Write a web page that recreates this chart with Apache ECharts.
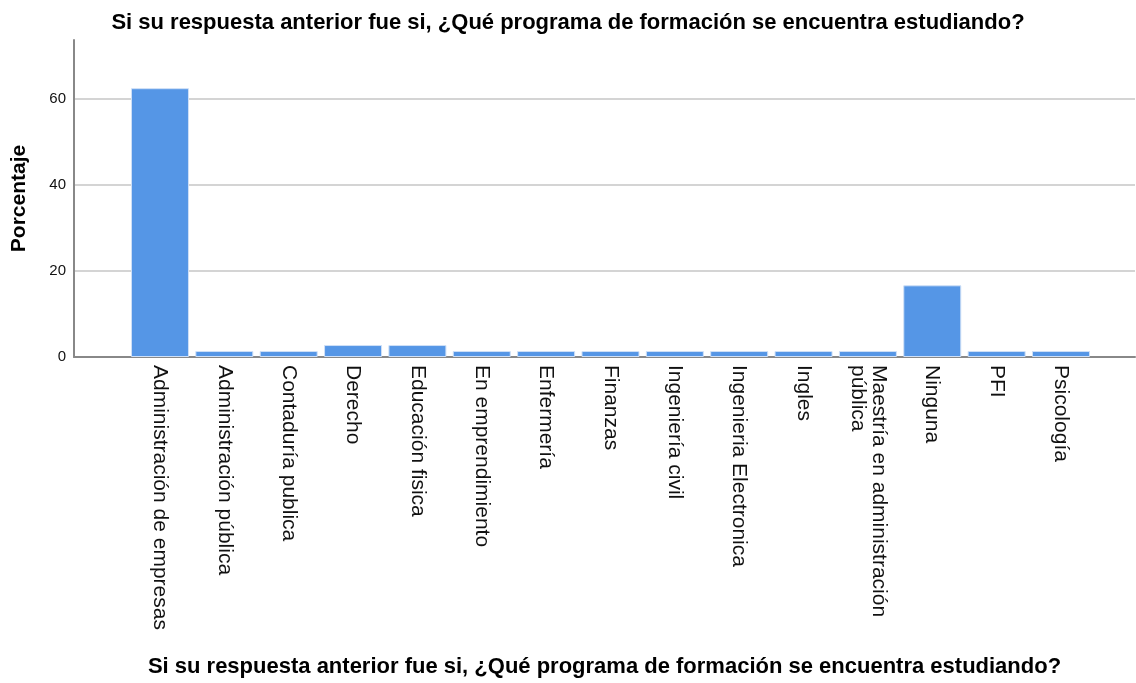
<!DOCTYPE html>
<html>
<head>
<meta charset="utf-8">
<script src="https://cdn.jsdelivr.net/npm/echarts@6/dist/echarts.min.js"></script>
<style>
  html, body { margin: 0; padding: 0; background: #fff; }
  #main { width: 1136px; height: 683px; }
</style>
</head>
<body>
<div id="main"></div>
<script>
var titleText = 'Si su respuesta anterior fue si, ¿Qué programa de formación se encuentra estudiando?'

var categories = [
  'Administración de empresas',
  'Administración pública',
  'Contaduría publica',
  'Derecho',
  'Educación fisica',
  'En emprendimiento',
  'Enfermería',
  'Finanzas',
  'Ingeniería civil',
  'Ingenieria Electronica',
  'Ingles',
  'Maestría en administración\npública',
  'Ninguna',
  'PFI',
  'Psicología'
]
var percentages = [62.5, 1.39, 1.39, 2.78, 2.78, 1.39, 1.39, 1.39, 1.39, 1.39, 1.39, 1.39, 16.67, 1.39, 1.39]
var yTicks = [0, 20, 40, 60]

var chartDom = document.getElementById('main')
var myChart = echarts.init(chartDom)
var font = 'Arial, "Liberation Sans", sans-serif'

var option = {
  animation: false,
  title: {
    text: titleText,
    left: 'center',
    top: 7,
    textStyle: { fontFamily: font, fontSize: 22, fontWeight: 'bold', color: '#000' }
  },
  grid: { left: 74, right: 1, top: 40, bottom: 326, outerBoundsMode: 'none', containLabel: false },
  xAxis: {
    type: 'value',
    min: -1.336,
    max: 15.15,
    name: titleText,
    nameLocation: 'middle',
    nameGap: 299,
    nameTextStyle: { fontFamily: font, fontSize: 22, fontWeight: 'bold', color: '#000' },
    axisLine: { show: true, onZero: false, lineStyle: { color: '#888', width: 2 } },
    axisTick: { show: false },
    splitLine: { show: false },
    axisLabel: {
      customValues: categories.map((c, i) => i),
      rotate: -90,
      margin: 8,
      fontFamily: font,
      fontSize: 21,
      color: '#111',
      lineHeight: 21,
      formatter: v => categories[Math.round(v)] || ''
    }
  },
  yAxis: {
    type: 'value',
    min: 0,
    max: 73.7,
    interval: 20,
    name: 'Porcentaje',
    nameLocation: 'middle',
    nameGap: 44,
    nameTextStyle: { fontFamily: font, fontSize: 21, fontWeight: 'bold', color: '#000' },
    axisLine: { show: true, onZero: false, lineStyle: { color: '#888', width: 2 } },
    axisTick: { show: false },
    axisLabel: {
      margin: 8,
      fontFamily: font,
      fontSize: 15,
      color: '#111',
      showMaxLabel: false,
      formatter: v => (yTicks.indexOf(v) >= 0 ? String(v) : '')
    },
    splitLine: { show: true, showMaxLine: false, lineStyle: { color: '#d4d4d4', width: 2 } }
  },
  series: [
    {
      type: 'bar',
      barWidth: 58,
      itemStyle: { color: '#5596e6', borderColor: '#cfe0f7', borderWidth: 1 },
      data: percentages.map((v, i) => [i, v])
    }
  ]
}

option && myChart.setOption(option)
</script>
</body>
</html>
